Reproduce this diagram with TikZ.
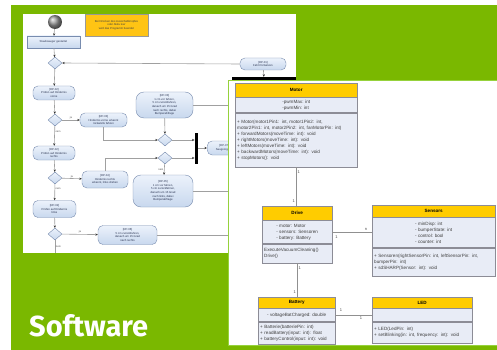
\documentclass[tikz,border=0pt]{standalone}
\usepackage{fontspec}
\setmainfont{Liberation Sans}
\newfontfamily\coverfont{Fira Sans}
\usetikzlibrary{arrows.meta,shapes.geometric,positioning}
\definecolor{bgGreen}{RGB}{122,184,0}
\definecolor{panelEdge}{RGB}{150,210,60}
\definecolor{headYellow}{RGB}{255,204,0}
\definecolor{noteYellow}{RGB}{255,196,20}
\definecolor{classBody}{RGB}{232,236,246}
\definecolor{classLine}{RGB}{140,140,150}
\definecolor{actTop}{RGB}{236,242,251}
\definecolor{actFill}{RGB}{200,216,238}
\definecolor{actLine}{RGB}{120,140,175}
\definecolor{actText}{RGB}{40,50,80}
\definecolor{edgeGray}{RGB}{160,160,160}
\newcommand{\acttext}{\fontsize{2.8}{3.6}\selectfont}
\newcommand{\guardtext}{\fontsize{2.6}{3}\selectfont}
\newcommand{\umltext}{\fontsize{4.6}{6}\selectfont}
\newcommand{\multtext}{\fontsize{4}{4}\selectfont}
\tikzset{
  panel box/.style={fill=white,draw=none},
  act node/.style={draw=actLine,line width=0.4pt,rounded corners=5pt,top color=actTop,bottom color=actFill,
    inner sep=0.5pt,align=center,font=\acttext,text=actText},
  act box/.style={act node,rounded corners=0pt},
  decision/.style={diamond,draw=actLine,line width=0.4pt,top color=actTop,bottom color=actFill,
    minimum width=14pt,minimum height=12pt,inner sep=0pt},
  sync bar/.style={fill=black,draw=none,inner sep=0pt},
  flow/.style={draw=edgeGray,line width=0.6pt,-{Stealth[length=2.5pt,width=2.2pt,black!80]}},
  flow line/.style={draw=edgeGray,line width=0.6pt},
  guard/.style={font=\guardtext,text=black!70,inner sep=0.6pt},
  class head/.style={draw=classLine,line width=0.4pt,fill=headYellow,font=\umltext\bfseries,inner sep=0pt,anchor=north west},
  class part/.style={draw=classLine,line width=0.4pt,fill=classBody,font=\umltext,text=black!75,inner sep=0pt,anchor=north},
  assoc/.style={draw=edgeGray!90!black,line width=0.8pt},
  mult/.style={font=\multtext,text=black!70,inner sep=1pt},
  cover title/.style={font=\coverfont\bfseries\fontsize{29}{29}\selectfont,text=white,inner sep=0pt},
  >=Stealth,
}
\newcommand{\umlClass}[9]{
\node[class head,minimum width=#4pt,minimum height=#5pt] (#1) at (#2,#3) {#1};
\node[class part,minimum width=#4pt,minimum height=#6pt,align=left] (#1 attr) at (#1.south) {#8};
\node[class part,minimum width=#4pt,minimum height=#7pt,text width=\dimexpr#4pt-4pt\relax,align=left] (#1 ops) at (#1 attr.south) {#9};
}

\begin{document}
\begin{tikzpicture}[x=1pt,y=-1pt]
\useasboundingbox (0,0) rectangle (497,350);
\fill[white] (0,0) rectangle (497,350);
\fill[bgGreen] (11,5) rectangle (497,350);
% activity diagram screenshot
\fill[panel box] (23,14) rectangle (296,253);
\shade[ball color=gray!80] (55,22) circle (7);
\node[inner sep=0pt,minimum size=14pt] (start) at (55,22) {};
\node[draw=black!40,line width=0.3pt,fill=noteYellow,minimum width=63pt,minimum height=22pt,align=center,font=\acttext,text=black!75] (note) at (116.5,25)
  {Bei Drücken des Ausschaltknopfes\\oder Akku leer\\wird das Programm beendet};
\node[act box,minimum width=53pt,minimum height=12pt] (begin) at (53.5,42) {Staubsauger gestartet};
\node[decision] (split) at (55,63) {};
\node[act node,minimum width=46pt,minimum height=12pt] (again) at (263,64) {[RP-01]\\Fahrt fortsetzen};
\node[sync bar,minimum width=64pt,minimum height=3pt] (top bar) at (264,78.5) {};
\node[act node,minimum width=42pt,minimum height=14pt] (scan a) at (54,93) {[RP-02]\\Prüfen auf Hindernis\\vorne};
\node[decision] (test a) at (55,120) {};
\node[act node,minimum width=47pt,minimum height=14pt] (turn a) at (103.5,120) {[RP-03]\\Hindernis vorne erkannt\\rückwärts fahren};
\node[act node,minimum width=42pt,minimum height=14pt] (scan b) at (54,153) {[RP-02]\\Prüfen auf Hindernis\\rechts};
\node[decision] (test b) at (55,178) {};
\node[act node,minimum width=46pt,minimum height=17pt] (turn b) at (105,179.5) {[RP-04]\\Hindernis rechts\\erkannt, links drehen};
\node[act node,minimum width=43pt,minimum height=17pt] (scan c) at (54.5,209) {[RP-02]\\Prüfen auf Hindernis\\links};
\node[decision] (test c) at (55,234) {};
\node[act node,minimum width=59pt,minimum height=19pt] (turn c) at (127.5,235) {[RP-06]\\5 cm zurückfahren,\\danach um 15 Grad\\nach rechts};
\node[act node,minimum width=57pt,minimum height=26pt,rounded corners=8pt] (wide a) at (164.5,105)
  {[RP-03]\\1 cm vor fahren,\\5 cm zurückfahren,\\danach um 15 Grad\\nach rechts, dabei\\Bumperabfrage};
\node[decision] (join a) at (165,140) {};
\node[decision] (join b) at (165,158) {};
\node[sync bar,minimum width=3.5pt,minimum height=31pt] (fork) at (196.5,148) {};
\node[act node,minimum width=34pt,minimum height=14pt,anchor=west] (clean) at (207,148) {[RP-07]\\Saugvorgang};
\node[act node,minimum width=60pt,minimum height=32pt,rounded corners=8pt] (wide b) at (163,191)
  {[RP-05]\\1 cm vor fahren,\\5 cm zurückfahren,\\danach um 15 Grad\\nach links, dabei\\Bumperabfrage};
\coordinate (off a) at (240,105);
\coordinate (off b) at (240,191);
\coordinate (off c) at (240,235);
\coordinate (exit) at (55,253);
\draw[flow] (start) -- (begin);
\draw[flow] (begin) -- (split);
\draw[flow] (again.west) -- (split.east);
\draw[flow] (again) -- (top bar);
\draw[flow] (split) -- (scan a);
\draw[flow] (scan a) -- (test a);
\draw[flow] (test a) -- node[guard,above]{ja} (turn a);
\draw[flow] (test a) -- node[guard,right,pos=.3]{nein} (scan b);
\draw[flow] (scan b) -- (test b);
\draw[flow] (test b) -- node[guard,above]{ja} (turn b);
\draw[flow] (test b) -- node[guard,right,pos=.3]{nein} (scan c);
\draw[flow] (scan c) -- (test c);
\draw[flow] (test c) -- node[guard,above]{ja} (turn c);
\draw[flow line] (test c) -- node[guard,right,pos=.5]{nein} (exit);
\draw[flow] (turn a) |- (join a);
\draw[flow] (turn b) |- (join b);
\draw[flow] (wide a) -- (join a);
\draw[flow] (join b) -- node[guard,left]{nein} (wide b);
\draw[flow] (join a) -- (join a -| fork.west);
\draw[flow] (join b) -- (join b -| fork.west);
\draw[flow] (fork) -- (clean);
\draw[flow line] (wide a) -- (off a);
\draw[flow line] (wide b) -- (off b);
\draw[flow line] (turn c) -- (off c);
% class diagram screenshot
\draw[panel box,draw=panelEdge,line width=0.8pt] (228,80) rectangle (498,345);
\umlClass{Motor}{235}{83}{122}{14}{15}{54}{-pwmMax: int\\-pwmMin: int}
  {+ Motor(motor1Pin1: int, motor1Pin2: int,\\motor2Pin1: int, motor2Pin2: int, fanMotorPin: int)\\+ forwardMotors(moveTime: int): void\\+ rightMotors(moveTime: int): void\\+ leftMotors(moveTime: int): void\\+ backwardMotors(moveTime: int): void\\+ stopMotors(): void}
\umlClass{Drive}{262}{206}{70}{14}{23}{19}{- motor: Motor\\- sensors: Sensoren\\- battery: Battery}
  {ExecuteVacuumCleaning()\\Drive()}
\umlClass{Sensors}{372}{205}{123}{12}{30}{28}{- minDisp: int\\- bumperState: int\\- control: bool\\- counter: int}
  {+ Sensoren(rightSensorPin: int, leftSensorPin: int,\\bumperPin: int)\\+ sdSHARP(Sensor: int): void}
\umlClass{Battery}{258}{297}{77}{11}{13}{22}{- voltageBatCharged: double}
  {+ Batterie(batteriePin: int)\\+ readBattery(input: int): float\\+ batteryControl(input: int): void}
\umlClass{LED}{372}{297}{100}{11}{13}{21}{}
  {+ LED(LedPin: int)\\+ setBlinking(in: int, frequency: int): void}
\draw[assoc] (Motor ops.south) -- node[mult,pos=.12,right]{1} node[mult,pos=.88,left]{1} (Motor ops.south |- Drive.north);
\draw[assoc] (Drive attr.east) -- node[mult,pos=.85,above]{n} node[mult,pos=.1,below=2pt]{1} (Drive attr.east -| Sensors attr.west);
\draw[assoc] (Drive ops.south) -- node[mult,pos=.15,right]{1} node[mult,pos=.85,left]{1} (Drive ops.south |- Battery.north);
\draw[assoc] (Battery attr.east) -- node[mult,pos=.15,above=2pt]{1} node[mult,pos=.7,below]{1} (Battery attr.east -| LED attr.west);
\node[cover title,anchor=base west] (title) at (29,336) {Software};
\end{tikzpicture}
\end{document}
